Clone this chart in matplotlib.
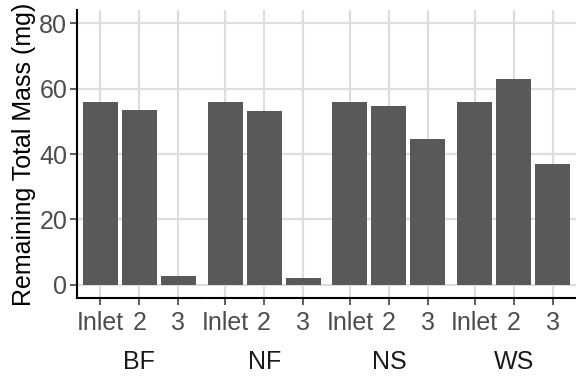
import matplotlib
matplotlib.use("Agg")
import matplotlib.pyplot as plt

groups = ["BF", "NF", "NS", "WS"]
positions = ["Inlet", "2", "3"]
bf_mass = [56.0, 53.4, 2.6]
nf_mass = [56.0, 53.0, 2.2]
ns_mass = [56.0, 54.8, 44.7]
ws_mass = [56.0, 62.8, 36.8]
y_ticks = [0, 20, 40, 60, 80]

values = [bf_mass, nf_mass, ns_mass, ws_mass]

plt.rcParams['font.family'] = ['Liberation Sans', 'DejaVu Sans']
FS = 18
GRID = "#DEDEDE"

fig = plt.figure(figsize=(5.76, 3.79), dpi=100)
left, right, bottom, top = 77/576, 1.0, (379-298)/379, (379-10)/379
gs = fig.add_gridspec(1, 4, left=left, right=right, bottom=bottom, top=top, wspace=0)
axes = [fig.add_subplot(gs[0, i]) for i in range(4)]

for i, (ax, g, vals) in enumerate(zip(axes, groups, values)):
    ax.bar(positions, vals, width=0.9, color="#595959", zorder=3)
    ax.set_xlim(-0.6, len(positions) - 0.4)
    ax.set_ylim(-4, 84)
    ax.set_yticks(y_ticks)
    ax.grid(True, color=GRID, linewidth=1.6, zorder=0)
    ax.set_axisbelow(True)
    for s in ["top", "right"]:
        ax.spines[s].set_visible(False)
    ax.spines["bottom"].set_color("black")
    ax.spines["bottom"].set_linewidth(1.5)
    if i == 0:
        ax.spines["left"].set_color("black")
        ax.spines["left"].set_linewidth(1.5)
        ax.tick_params(axis="y", length=5, width=1.1, color="#333333",
                       labelsize=FS, labelcolor="#4D4D4D", pad=2)
        ax.set_ylabel("Remaining Total Mass (mg)", fontsize=FS, color="black", labelpad=2)
    else:
        ax.spines["left"].set_visible(False)
        ax.tick_params(axis="y", length=0, labelleft=False)
    ax.tick_params(axis="x", length=5, width=1.1, color="#333333",
                   labelsize=FS, labelcolor="#4D4D4D", pad=4)
    ax.set_xlabel(g, fontsize=FS, color="#1A1A1A", labelpad=11)

fig.savefig("out.png", dpi=100)
